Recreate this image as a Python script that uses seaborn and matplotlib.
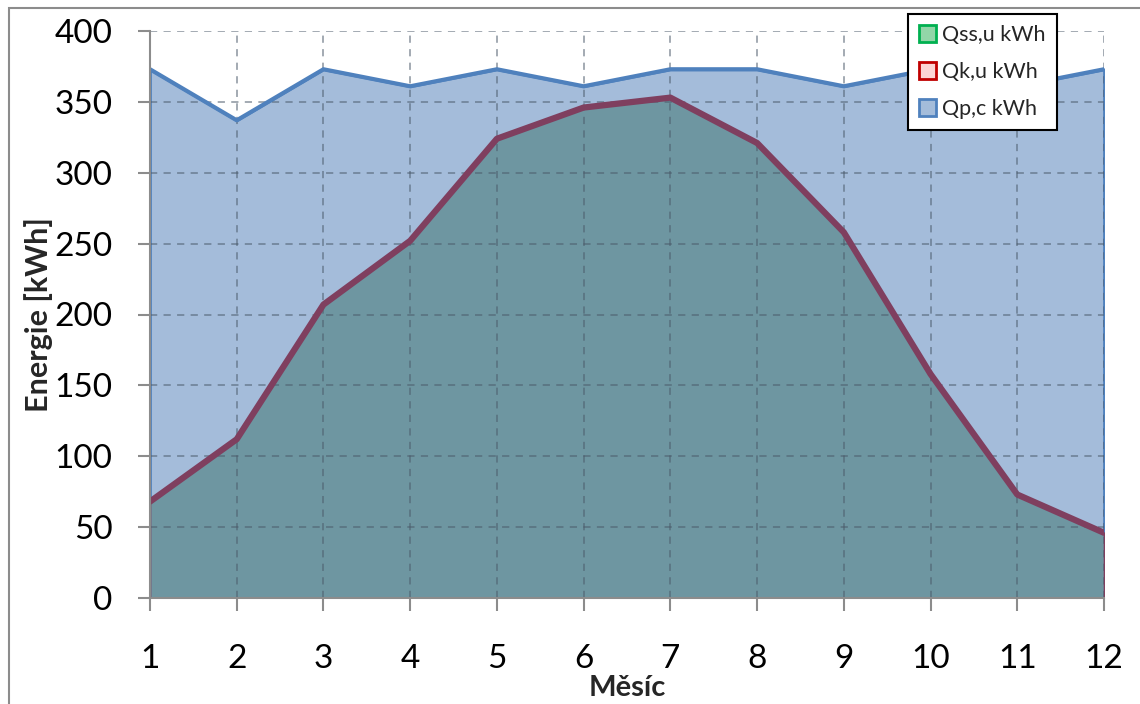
import matplotlib
matplotlib.use("Agg")
import matplotlib.pyplot as plt
from matplotlib.patches import Patch, Rectangle
import seaborn as sns
import pandas as pd

# Monthly energy values [kWh]
months = [1, 2, 3, 4, 5, 6, 7, 8, 9, 10, 11, 12]
q_pc = [373, 337, 373, 361, 373, 361, 373, 373, 361, 373, 361, 373]
q_ssu = [68, 112, 207, 252, 324, 346, 353, 321, 258, 158, 73, 46]
q_ku = [68, 112, 207, 252, 324, 346, 353, 321, 258, 158, 73, 46]
series_labels = ["Qss,u kWh", "Qk,u kWh", "Qp,c kWh"]

df = pd.DataFrame({"Měsíc": months, "Qp,c": q_pc, "Qss,u": q_ssu, "Qk,u": q_ku})

sns.set_style("white")
plt.rcParams["font.family"] = ["Lato", "DejaVu Sans"]

fig = plt.figure(figsize=(11.4, 7.04), dpi=100)
ax = fig.add_axes([150 / 1140, 1 - 598 / 704, (1104 - 150) / 1140, (598 - 31) / 704])

# Outer chart border
fig.patches.append(Rectangle((9 / 1140, -0.05), 1.2, 1 - 8 / 704 + 0.05,
                             transform=fig.transFigure, fill=False,
                             edgecolor="#8c8c8c", linewidth=1.5, zorder=0))

blue_fill = "#a4bcda"
blue_line = "#4f81bd"
low_fill = "#6e96a1"
maroon = "#7f3f5f"

# Qp,c area
ax.fill_between(df["Měsíc"], 0, df["Qp,c"], facecolor=blue_fill,
                edgecolor=blue_line, linewidth=2, zorder=1)
sns.lineplot(data=df, x="Měsíc", y="Qp,c", color=blue_line, linewidth=3,
             ax=ax, zorder=3)

# Qss,u area (green) with Qk,u (red) on top – combined appearance
ax.fill_between(df["Měsíc"], 0, df["Qss,u"], facecolor=low_fill,
                edgecolor=maroon, linewidth=1.2, zorder=2)
sns.lineplot(data=df, x="Měsíc", y="Qk,u", color=maroon, linewidth=4.5,
             ax=ax, zorder=4)

ax.set_xlim(1, 12)
ax.set_ylim(0, 400)
ax.set_xticks(months)
ax.set_yticks(range(0, 401, 50))
ax.tick_params(axis="both", labelsize=24, colors="#8c8c8c", labelcolor="black",
               length=9, width=1.5, direction="out")
ax.tick_params(axis="x", pad=24)
ax.tick_params(axis="y", pad=18)
ax.xaxis.set_ticks_position("bottom")
ax.yaxis.set_ticks_position("left")

ax.grid(True, linestyle=(0, (4, 3.5)), color="#4a5a6a", alpha=0.55, linewidth=1.3)
ax.set_axisbelow(False)
for gl in ax.get_xgridlines() + ax.get_ygridlines():
    gl.set_zorder(5)

for side in ["top", "right"]:
    ax.spines[side].set_visible(False)
for side in ["left", "bottom"]:
    ax.spines[side].set_color("#8c8c8c")
    ax.spines[side].set_linewidth(1.5)
    ax.spines[side].set_zorder(6)

ax.set_xlabel("Měsíc", fontsize=21, fontweight="bold", labelpad=1)
ax.set_ylabel("Energie [kWh]", fontsize=22, fontweight="bold", labelpad=1)

handles = [
    Patch(facecolor="#92d6a8", edgecolor="#00b050", linewidth=2),
    Patch(facecolor="#fcd5d4", edgecolor="#c00000", linewidth=2),
    Patch(facecolor=blue_fill, edgecolor=blue_line, linewidth=2),
]
leg = fig.legend(handles, series_labels, loc="upper left",
                 bbox_to_anchor=(908 / 1140, 1 - 14 / 704),
                 fontsize=15.5, frameon=True, fancybox=False, framealpha=1,
                 handlelength=0.8, handleheight=0.8, handletextpad=0.3,
                 labelspacing=0.8, borderpad=0.5, borderaxespad=0)
leg.get_frame().set_facecolor("white")
leg.get_frame().set_edgecolor("black")
leg.get_frame().set_linewidth(1.5)
leg.set_zorder(10)

fig.savefig("out.png", dpi=100)
